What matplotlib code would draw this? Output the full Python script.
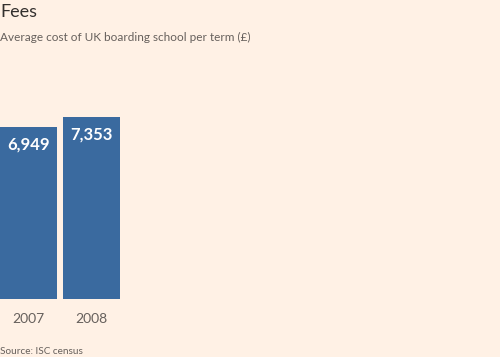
import matplotlib
matplotlib.use('Agg')
import matplotlib.pyplot as plt

# data
years = ['2007', '2008']
fees = [6949, 7353]

bg = '#FFF1E5'
bar_color = '#3A6A9F'

plt.rcParams['font.family'] = ['Lato', 'DejaVu Sans']

fig = plt.figure(figsize=(5, 3.57), dpi=100, facecolor=bg)
# axes spans from y=60px to y=299px
ax = fig.add_axes([0, 1 - 299 / 357, 1, 239 / 357], facecolor=bg)

x = list(range(len(years)))
width = 57 / 63
ax.bar(x, fees, width=width, color=bar_color)

ax.set_xlim(-width / 2, -width / 2 + 500 / 63)
ax.set_ylim(0, 7353 * 239 / 182)
ax.axis('off')

# value labels inside the bars
for xi, v in zip(x, fees):
    ax.annotate(f'{v:,}', (xi, v), xytext=(0, -6.5), textcoords='offset points',
                ha='center', va='top', color='white', fontsize=12, fontweight='bold')

# year labels under the bars
for xi, yr in zip(x, years):
    ax.annotate(yr, (xi, 0), xytext=(0, -10), textcoords='offset points',
                ha='center', va='top', color='#66605C', fontsize=10)

fig.text(0.0, 1 - 12 / 357, 'Fees', fontsize=13, color='#33302E', va='center', ha='left')
fig.text(0.0, 1 - 37 / 357, 'Average cost of UK boarding school per term (£)',
         fontsize=8.5, color='#66605C', va='center', ha='left')
fig.text(0.0, 1 - 351 / 357, 'Source: ISC census', fontsize=7.2, color='#66605C',
         va='center', ha='left')

fig.savefig('out.png', dpi=100, facecolor=bg)
